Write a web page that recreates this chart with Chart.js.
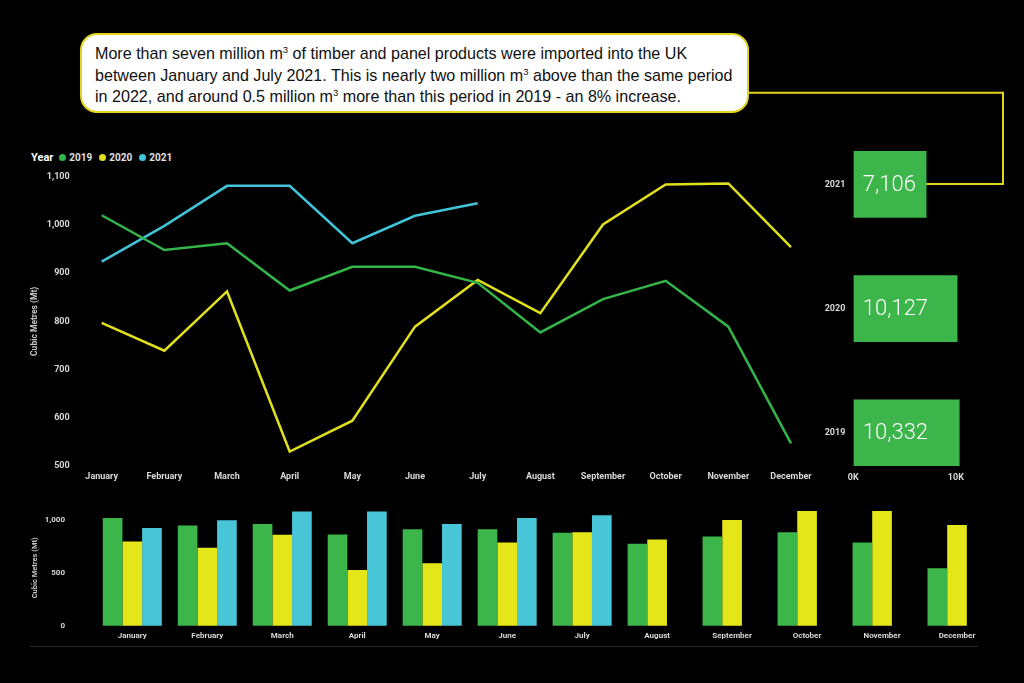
<!DOCTYPE html>
<html>
<head>
<meta charset="utf-8">
<script src="https://cdn.jsdelivr.net/npm/chart.js@4.4.0/dist/chart.umd.min.js"></script>
<style>
  html, body { margin: 0; padding: 0; background: #000; width: 1024px; height: 683px; overflow: hidden; }
  .abs { position: absolute; }
  #note {
    left: 80px; top: 33px; width: 669px; height: 80px; box-sizing: border-box;
    border: 2px solid #e3d51c; border-radius: 17px; background: #fff;
    font-family: "Liberation Sans", Arial, sans-serif; font-size: 16.1px; line-height: 21.7px;
    color: #111; padding: 8px 0 0 13px; white-space: nowrap;
  }
  #note sup { font-size: 9.5px; vertical-align: 6px; line-height: 0; }
  #legend {
    left: 31px; top: 151px; font-family: Roboto, "DejaVu Sans", sans-serif; font-size: 10px;
    font-weight: bold; color: #e0e0e0; display: flex; align-items: center; white-space: nowrap;
  }
  #legend .title { color: #fff; font-size: 11px; margin-right: 6px; }
  #legend .item { display: flex; align-items: center; margin-right: 7px; }
  #legend .dot { width: 7px; height: 7px; border-radius: 50%; margin-right: 3px; }
  #sep { left: 30px; top: 646px; width: 948px; height: 1px; background: #2b2b2b; }
</style>
</head>
<body>
<div id="note" class="abs">More than seven million m<sup>3</sup> of timber and panel products were imported into the UK<br>between January and July 2021. This is nearly two million m<sup>3</sup> above than the same period<br>in 2022, and around 0.5 million m<sup>3</sup> more than this period in 2019 - an 8% increase.</div>
<svg class="abs" style="left:0;top:0" width="1024" height="683">
  <polyline points="749,92.7 1003,92.7 1003,184 926,184" fill="none" stroke="#e3d51c" stroke-width="2"/>
</svg>
<div id="legend" class="abs"></div>
<canvas id="line" class="abs" style="left:0;top:160px" width="830" height="330"></canvas>
<canvas id="totals" class="abs" style="left:800px;top:110px" width="224" height="380"></canvas>
<canvas id="bars" class="abs" style="left:0;top:495px" width="1000" height="155"></canvas>
<div id="sep" class="abs"></div>
<script>
// ---- data ----
const months = ['January','February','March','April','May','June','July','August','September','October','November','December'];
const years = ['2019','2020','2021'];
const values2019 = [1020, 948, 962, 864, 913, 913, 880, 777, 846, 884, 789, 547];
const values2020 = [797, 739, 862, 530, 594, 789, 886, 817, 1001, 1084, 1086, 954];
const values2021 = [924, 998, 1081, 1081, 962, 1019, 1045, null, null, null, null, null];
const yearTotals = [10332, 10127, 7106];
const totalTicks = [0, 10000];
const barTicks = [0, 500, 1000];

const series = [values2019, values2020, values2021];
const lineColors = ['#33b54a', '#e0e01e', '#42c4d8'];
const barColors = ['#3cb54a', '#e5e619', '#48c6d8'];
const labelColor = '#d9d9d9';
const tickFont = { family: 'Roboto, "DejaVu Sans", sans-serif', size: 9, weight: 'bold' };
const smallFont = { family: 'Roboto, "DejaVu Sans", sans-serif', size: 8, weight: 'bold' };

// legend
const legend = document.getElementById('legend');
legend.innerHTML = '<span class="title">Year</span>' + years.map((y, i) =>
  '<span class="item"><span class="dot" style="background:' + lineColors[i] + '"></span>' + y + '</span>').join('');

// invisible tick marks used as spacing between labels and the plot
const gapGrid = len => ({ display: true, drawOnChartArea: false, drawTicks: true, tickLength: len, color: 'rgba(0,0,0,0)' });

// ---- line chart ----
new Chart(document.getElementById('line'), {
  type: 'line',
  data: {
    labels: months,
    datasets: years.map((y, i) => ({
      label: y, data: series[i], borderColor: lineColors[i], borderWidth: 2.5,
      pointRadius: 0, tension: 0, spanGaps: false
    }))
  },
  options: {
    responsive: false, animation: false,
    layout: { padding: { left: 30, top: 16.7, right: 39, bottom: 0 } },
    plugins: { legend: { display: false }, tooltip: { enabled: false } },
    scales: {
      x: {
        grid: gapGrid(5), border: { display: false },
        ticks: { color: labelColor, font: tickFont, padding: 0, maxRotation: 0, autoSkip: false },
        afterFit: s => { s.height = 24; }
      },
      y: {
        min: 500, max: 1100,
        grid: gapGrid(32), border: { display: false },
        ticks: { stepSize: 100, color: labelColor, font: tickFont, padding: 0 },
        title: { display: true, text: 'Cubic Metres (Mt)', color: '#c4c4c4',
                 font: { family: 'Roboto, sans-serif', size: 8.5, weight: 'bold' }, padding: 0 },
        afterFit: s => { s.width = 71.7; }
      }
    }
  }
});

// ---- totals chart ----
const valueLabels = {
  id: 'valueLabels',
  afterDatasetsDraw(chart) {
    const ctx = chart.ctx;
    const meta = chart.getDatasetMeta(0);
    ctx.save();
    ctx.fillStyle = '#ffffff';
    ctx.font = '300 22px Roboto, "Open Sans", sans-serif';
    ctx.textAlign = 'left';
    ctx.textBaseline = 'middle';
    meta.data.forEach((el, i) => {
      ctx.fillText(yearTotals[i].toLocaleString('en-US'), el.base + 9, el.y + 1);
    });
    ctx.restore();
  }
};
new Chart(document.getElementById('totals'), {
  type: 'bar',
  data: {
    datasets: [{
      data: years.map((y, i) => ({ x: yearTotals[i], y: i })),
      backgroundColor: barColors[0], barThickness: 66
    }]
  },
  options: {
    indexAxis: 'y', responsive: false, animation: false,
    layout: { padding: { left: 0, top: 12.2, right: 57.9, bottom: 0 } },
    plugins: { legend: { display: false }, tooltip: { enabled: false } },
    scales: {
      x: {
        type: 'linear', min: 0, max: 11000,
        grid: gapGrid(6), border: { display: false },
        afterBuildTicks: s => { s.ticks = totalTicks.map(v => ({ value: v })); },
        ticks: { color: labelColor, font: tickFont, padding: 0, callback: v => (v / 1000) + 'K' },
        afterFit: s => { s.height = 24; }
      },
      y: {
        type: 'linear', min: -0.267, max: 2.5, offset: false,
        grid: gapGrid(8), border: { display: false },
        afterBuildTicks: s => { s.ticks = years.map((y, i) => ({ value: i })); },
        ticks: { color: labelColor, font: tickFont, padding: 0, callback: v => years[v] },
        afterFit: s => { s.width = 53.3; }
      }
    }
  },
  plugins: [valueLabels]
});

// ---- grouped bar chart ----
new Chart(document.getElementById('bars'), {
  type: 'bar',
  data: {
    labels: months,
    datasets: years.map((y, i) => ({
      label: y, data: series[i], backgroundColor: barColors[i],
      categoryPercentage: 0.787, barPercentage: 1.0
    }))
  },
  options: {
    responsive: false, animation: false,
    layout: { padding: { left: 30.5, top: 14.4, right: 5.5, bottom: 0 } },
    plugins: { legend: { display: false }, tooltip: { enabled: false } },
    scales: {
      x: {
        grid: gapGrid(5), border: { display: false },
        ticks: { color: labelColor, font: smallFont, padding: 0, maxRotation: 0, autoSkip: false },
        afterFit: s => { s.height = 23.7; }
      },
      y: {
        min: 0, max: 1100,
        grid: gapGrid(29.8), border: { display: false },
        afterBuildTicks: s => { s.ticks = barTicks.map(v => ({ value: v })); },
        ticks: { color: labelColor, font: smallFont, padding: 0 },
        title: { display: true, text: 'Cubic Metres (Mt)', color: '#c4c4c4',
                 font: { family: 'Roboto, sans-serif', size: 7.5, weight: 'bold' }, padding: 0 },
        afterFit: s => { s.width = 64.3; }
      }
    }
  }
});
</script>
</body>
</html>
